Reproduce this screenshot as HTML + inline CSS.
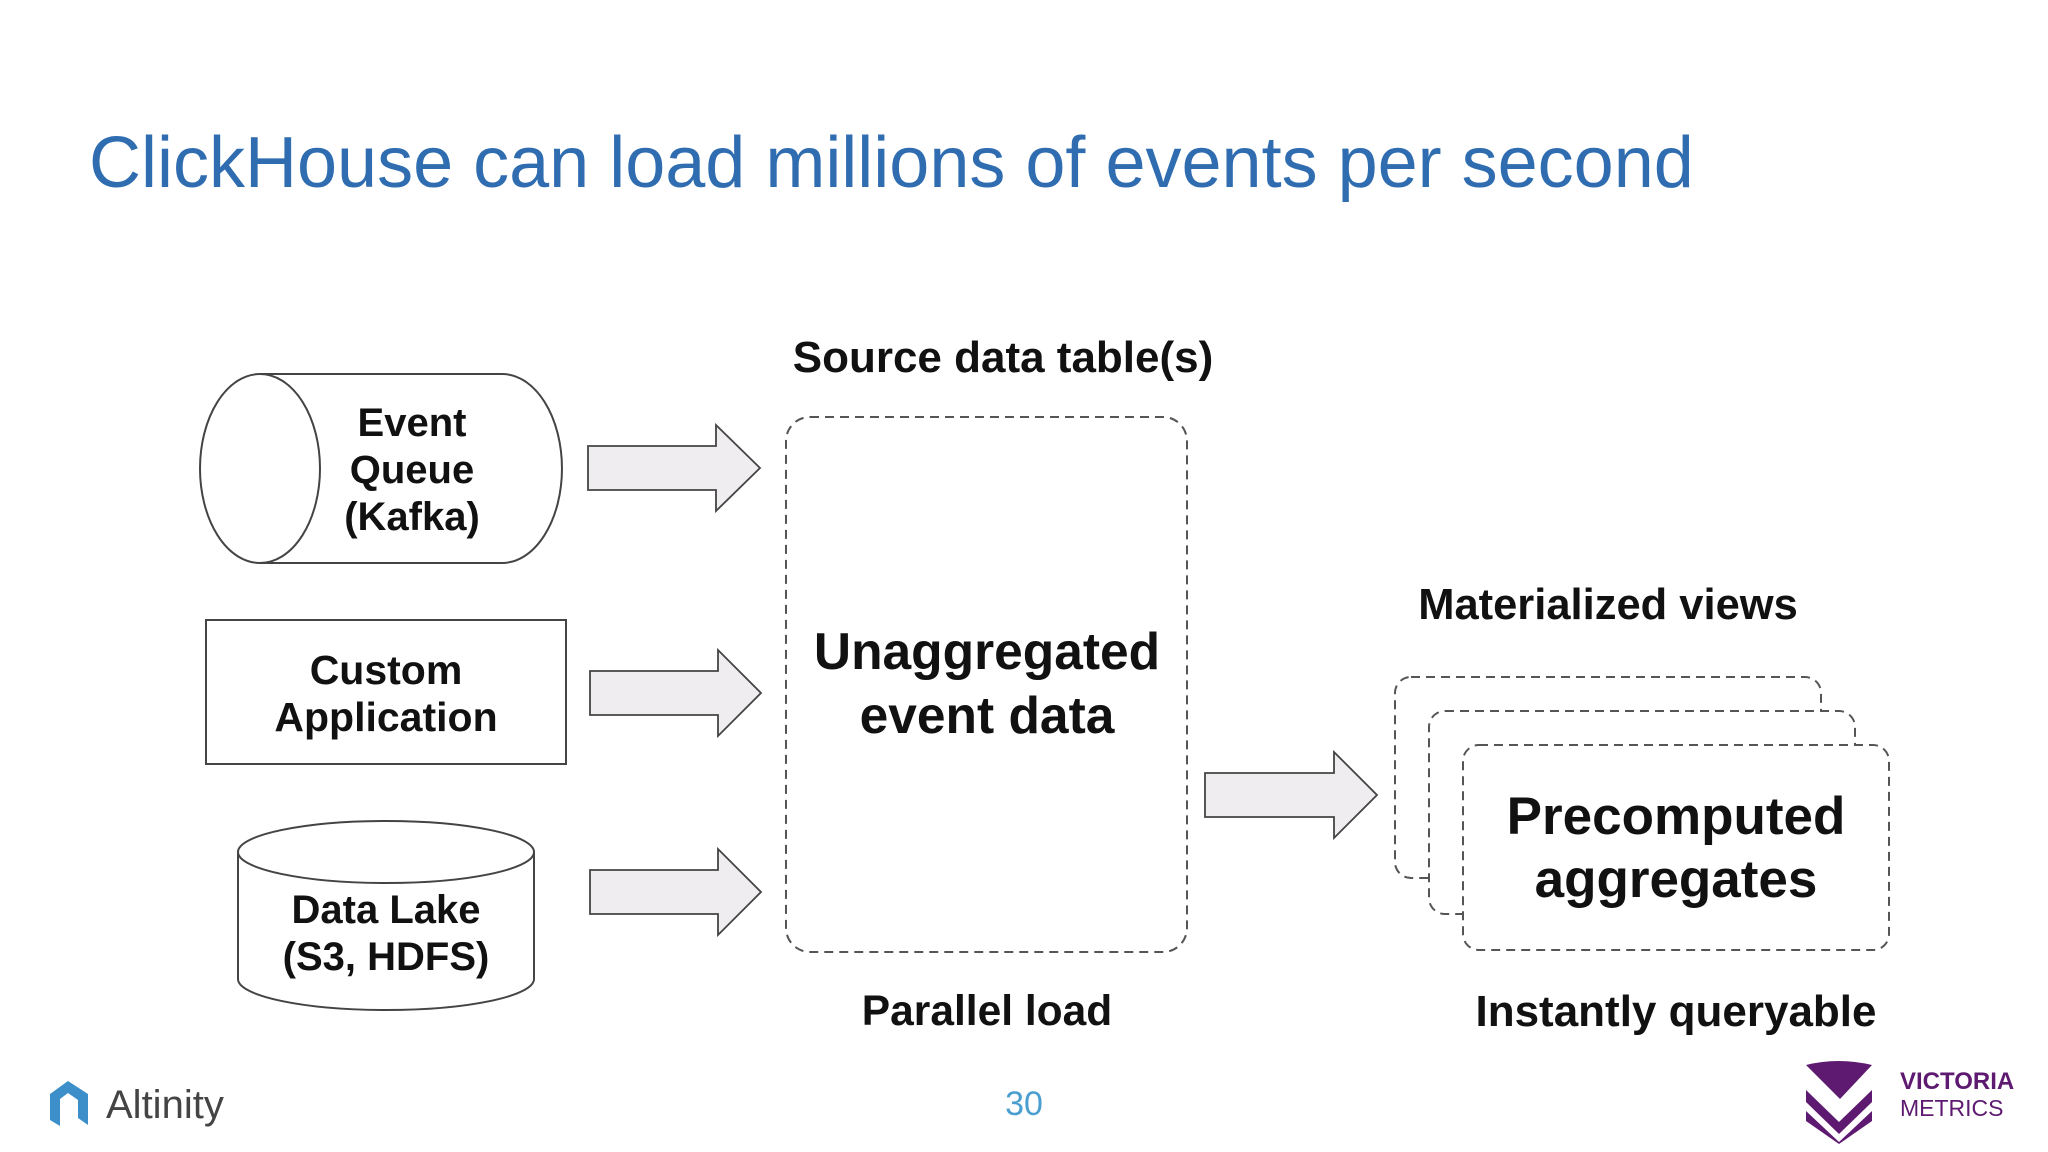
<!DOCTYPE html>
<html><head><meta charset="utf-8"><style>
html,body{margin:0;padding:0;background:#fff;}
svg{display:block;}
</style></head><body>
<svg width="2048" height="1152" viewBox="0 0 2048 1152" xmlns="http://www.w3.org/2000/svg" font-family="Liberation Sans, sans-serif">
<rect width="2048" height="1152" fill="#fff"/>
<text x="89" y="187" font-size="72" fill="#2f6db0">ClickHouse can load millions of events per second</text>

<g stroke="#444" stroke-width="2" fill="#fff">
  <path d="M260,374 H502 A60,94.5 0 0 1 502,563 H260"/>
  <ellipse cx="260" cy="468.5" rx="60" ry="94.5"/>
  <rect x="206" y="620" width="360" height="144"/>
  <path d="M238,852 V979 A148,31 0 0 0 534,979 V852"/>
  <ellipse cx="386" cy="852" rx="148" ry="31"/>
</g>

<g stroke="#444" stroke-width="1.8" fill="#efedf0">
  <path d="M588,446 H716 V425 L760,468 L716,511 V490 H588 Z"/>
  <path d="M590,671 H718 V650 L761,693 L718,736 V715 H590 Z"/>
  <path d="M590,870 H718 V849 L761,892 L718,935 V914 H590 Z"/>
  <path d="M1205,773 H1334 V752 L1377,795 L1334,838 V817 H1205 Z"/>
</g>

<g stroke="#555" stroke-width="2" stroke-dasharray="9,6" fill="#fff">
  <rect x="786" y="417" width="401" height="535" rx="24"/>
  <rect x="1395" y="677" width="426" height="201" rx="16"/>
  <rect x="1429" y="711" width="426" height="203" rx="16"/>
  <rect x="1463" y="745" width="426" height="205" rx="16"/>
</g>

<g fill="#111" font-weight="bold" text-anchor="middle">
  <text x="412" y="436" font-size="40">Event</text>
  <text x="412" y="483" font-size="40">Queue</text>
  <text x="412" y="530" font-size="40">(Kafka)</text>
  <text x="386" y="684" font-size="41">Custom</text>
  <text x="386" y="731" font-size="41">Application</text>
  <text x="386" y="923" font-size="40">Data Lake</text>
  <text x="386" y="970" font-size="40">(S3, HDFS)</text>
  <text x="1003" y="372" font-size="44">Source data table(s)</text>
  <text x="987" y="669" font-size="51.5">Unaggregated</text>
  <text x="987" y="733" font-size="51.5">event data</text>
  <text x="987" y="1025" font-size="42.5">Parallel load</text>
  <text x="1608" y="619" font-size="43.5">Materialized views</text>
  <text x="1676" y="834" font-size="53">Precomputed</text>
  <text x="1676" y="897" font-size="53">aggregates</text>
  <text x="1676" y="1026" font-size="44">Instantly queryable</text>
</g>

<g>
  <path d="M50,1094 L68,1081 L88,1094 V1125 L78,1118 V1100 L68,1093 L60,1099 V1126 L50,1120 Z" fill="#3d8fc9"/>
  <text x="106" y="1118" font-size="40" fill="#444">Altinity</text>
</g>
<text x="1024" y="1115" font-size="34" fill="#4a9fd0" text-anchor="middle">30</text>

<g fill="#5e1a70">
  <path d="M1806,1065 Q1838,1057 1872,1065 L1840,1099 Z"/>
  <path d="M1806,1090 L1839,1122 L1872,1090 V1102 L1839,1134 L1806,1102 Z"/>
  <path d="M1806,1111 L1839,1142 L1872,1111 V1121 L1839,1144 L1806,1121 Z"/>
  <text x="1900" y="1089" font-size="24" font-weight="bold">VICTORIA</text>
  <text x="1900" y="1116" font-size="23">METRICS</text>
</g>
</svg>
</body></html>
